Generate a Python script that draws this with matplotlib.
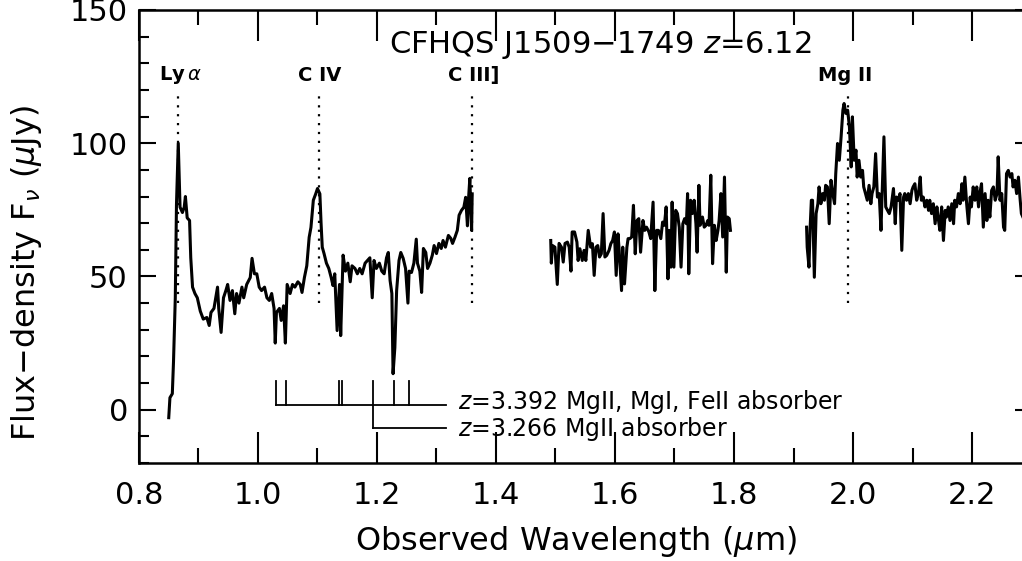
import matplotlib
matplotlib.use("Agg")
import matplotlib.pyplot as plt
from matplotlib.ticker import MultipleLocator, FormatStrFormatter

# spectrum, three pieces with gaps between the bands
wl_a = [0.850, 0.852, 0.856, 0.858, 0.861, 0.863, 0.866, 0.869, 0.873, 0.876,
        0.878, 0.881, 0.885, 0.887, 0.890, 0.894, 0.898, 0.903, 0.908, 0.914,
        0.918, 0.921, 0.926, 0.932, 0.934, 0.938, 0.942, 0.946, 0.949, 0.953,
        0.957, 0.961, 0.964, 0.968, 0.973, 0.976, 0.981, 0.987, 0.990, 0.994,
        0.998, 1.002, 1.006, 1.011, 1.015, 1.019, 1.023, 1.027, 1.029, 1.031,
        1.036, 1.039, 1.043, 1.046, 1.049, 1.054, 1.058, 1.062, 1.067, 1.071,
        1.074, 1.078, 1.082, 1.086, 1.089, 1.093, 1.097, 1.100, 1.104, 1.106,
        1.108, 1.111, 1.115, 1.119, 1.123, 1.126, 1.129, 1.133, 1.137, 1.139,
        1.143, 1.147, 1.151, 1.155, 1.158, 1.163, 1.167, 1.171, 1.175, 1.180,
        1.184, 1.188, 1.192, 1.195, 1.199, 1.204, 1.208, 1.212, 1.216, 1.219,
        1.222, 1.225, 1.227, 1.230, 1.233, 1.237, 1.240, 1.244, 1.248, 1.252,
        1.254, 1.258, 1.262, 1.266, 1.268, 1.272, 1.275, 1.278, 1.282, 1.285,
        1.289, 1.293, 1.296, 1.300, 1.304, 1.308, 1.311, 1.315, 1.320, 1.324,
        1.327, 1.331, 1.335, 1.338, 1.342, 1.346, 1.349, 1.352, 1.354, 1.356,
        1.359, 1.360]
fl_a = [-3, 4.5, 6, 18, 42, 77, 100, 76, 74, 76,
        80, 72, 71, 57, 46, 43.6, 42, 37, 34, 34.6,
        31.6, 36.5, 38, 46, 38, 29, 42, 44.7, 47, 41,
        44.7, 36, 43.6, 40, 46, 42, 47, 49.6, 56.8, 51,
        51, 46, 44.7, 46, 42, 41, 43.6, 38, 25, 36.5,
        38, 33.5, 39, 25, 47, 43.6, 47, 46, 48, 47,
        44, 49.6, 54, 64.7, 68.4, 78.6, 81, 83, 81, 70,
        61, 58.6, 55, 53, 49.6, 46.6, 51, 29.7, 47, 27.8,
        58, 52, 55, 48, 54, 53, 51, 53, 51, 55,
        56, 57, 42, 56, 53, 55, 52, 51, 57, 59,
        48.5, 43.6, 13.5, 23.3, 44.7, 56, 59, 56.8, 53, 40,
        52, 51.5, 55, 64, 55, 52, 44, 60.5, 59, 53,
        55, 58, 61.6, 58.6, 62.4, 60.5, 63.5, 61, 65.4, 64.3,
        62.4, 64.7, 67.3, 73, 74.8, 76, 79.7, 69, 79.7, 86.8,
        67.3, 81]

wl_b = [1.492, 1.493, 1.495, 1.499, 1.503, 1.506, 1.510, 1.513, 1.516, 1.520,
        1.523, 1.526, 1.528, 1.532, 1.536, 1.538, 1.541, 1.545, 1.548, 1.551,
        1.555, 1.559, 1.562, 1.565, 1.568, 1.571, 1.574, 1.577, 1.580, 1.583,
        1.586, 1.590, 1.593, 1.596, 1.599, 1.602, 1.605, 1.607, 1.611, 1.613,
        1.616, 1.620, 1.622, 1.625, 1.628, 1.631, 1.634, 1.637, 1.640, 1.643,
        1.647, 1.650, 1.653, 1.657, 1.660, 1.664, 1.667, 1.670, 1.673, 1.677,
        1.680, 1.683, 1.686, 1.689, 1.691, 1.694, 1.696, 1.699, 1.702, 1.705,
        1.708, 1.711, 1.714, 1.717, 1.720, 1.722, 1.724, 1.727, 1.730, 1.733,
        1.736, 1.738, 1.741, 1.743, 1.747, 1.750, 1.753, 1.756, 1.758, 1.761,
        1.764, 1.767, 1.770, 1.773, 1.775, 1.778, 1.781, 1.784, 1.787, 1.789,
        1.792, 1.794]
fl_b = [63.5, 55, 61.6, 61, 47, 62.4, 61, 55.4, 62.4, 62.9,
        61, 52, 66.7, 66.7, 62.9, 56, 60.4, 56, 59.8, 56,
        67.3, 61, 62.3, 50.4, 61, 61.6, 57.3, 58.5, 73.6, 57.3,
        57.9, 59.8, 62.3, 63.5, 66.7, 50.4, 66, 59.8, 44.7, 61,
        47.2, 61, 64.2, 64.2, 64.8, 76.7, 58.5, 71, 71.7, 59.1,
        71, 67.3, 68.5, 66.7, 64.2, 77.9, 44.7, 67.3, 67.3, 64.2,
        70.4, 69.2, 76.1, 49.1, 67.3, 53.5, 77.9, 53.5, 74.8, 73.6,
        68.5, 53.5, 69.8, 71.7, 69.8, 81.1, 51, 78.6, 73.6, 78.6,
        69.8, 59.1, 84.2, 69.2, 72.3, 68.5, 69.2, 71, 69.2, 88,
        54.8, 69.2, 63.5, 67.3, 71, 81.1, 64.8, 87.3, 51.6, 72.3,
        71.7, 67.3]

wl_c = [1.922, 1.923, 1.926, 1.928, 1.930, 1.932, 1.935, 1.938, 1.941, 1.943,
        1.946, 1.949, 1.952, 1.954, 1.957, 1.960, 1.963, 1.966, 1.969, 1.971,
        1.974, 1.977, 1.980, 1.983, 1.985, 1.988, 1.991, 1.994, 1.997, 1.999,
        2.002, 2.005, 2.007, 2.010, 2.013, 2.016, 2.018, 2.021, 2.024, 2.027,
        2.030, 2.032, 2.035, 2.038, 2.041, 2.044, 2.047, 2.049, 2.052, 2.055,
        2.058, 2.061, 2.064, 2.068, 2.071, 2.073, 2.076, 2.079, 2.082, 2.085,
        2.087, 2.090, 2.093, 2.096, 2.099, 2.101, 2.104, 2.107, 2.110, 2.113,
        2.115, 2.118, 2.121, 2.124, 2.127, 2.129, 2.132, 2.135, 2.138, 2.141,
        2.143, 2.146, 2.149, 2.152, 2.155, 2.157, 2.160, 2.163, 2.166, 2.169,
        2.171, 2.174, 2.177, 2.180, 2.183, 2.185, 2.188, 2.191, 2.194, 2.197,
        2.199, 2.202, 2.205, 2.208, 2.211, 2.213, 2.216, 2.219, 2.222, 2.225,
        2.227, 2.230, 2.233, 2.236, 2.239, 2.242, 2.244, 2.247, 2.250, 2.253,
        2.255, 2.258, 2.261, 2.264, 2.267, 2.269, 2.272, 2.275, 2.278, 2.281,
        2.283, 2.290]
fl_c = [68.5, 61, 53.5, 68.5, 78.6, 78.6, 49.7, 73.6, 77.3, 83.6,
        77.3, 81.1, 78.6, 84.2, 83.6, 69.8, 86.1, 81.1, 77.3, 88.6,
        99.9, 93.6, 102.4, 112.4, 114.9, 111.2, 112.4, 106.1, 91.1, 109.9,
        93.6, 97.4, 87.3, 93.6, 87.3, 89.8, 83.6, 81.1, 78.6, 84.2,
        77.3, 81.1, 83.6, 96.1, 79.8, 81.1, 67.3, 81.1, 102.4, 76.1,
        74.8, 73.6, 76.1, 83, 69.8, 79.8, 78.6, 81.1, 59.8, 79.8,
        81.1, 78.6, 81.1, 77.3, 82.3, 83.6, 84.8, 78.6, 81.1, 87.3,
        78.6, 79.8, 76.1, 78.6, 74.8, 78.6, 73.6, 77.3, 69.8, 76.1,
        72.3, 67.3, 76.1, 63.5, 74.8, 72.3, 76.1, 71, 77.3, 69.8,
        78.6, 76.1, 81.1, 77.3, 84.8, 78.6, 87.3, 77.3, 69.8, 79.8,
        76.1, 83.6, 78.6, 83.6, 76.1, 81.1, 84.8, 68.5, 81.1, 71,
        78.6, 72.3, 82.3, 83.6, 78.6, 81.1, 94.9, 78.6, 81.1, 68.5,
        67.3, 88.6, 89.8, 87.3, 88.6, 83.6, 86.1, 81.1, 87.3, 78.6,
        73.6, 70]

# emission lines (z = 6.12)
line_wl = [0.8657, 1.1029, 1.359, 1.992]
line_names = ["Ly$\\,\\alpha$", "C IV", "C III]", "Mg II"]
label_wl = [0.869, 1.104, 1.363, 1.987]

# absorbers
abs1_wl = [1.0296, 1.0465, 1.1361, 1.1420, 1.2282, 1.2530]
abs2_wl = [1.1937]
abs_end = 1.316

fig = plt.figure(figsize=(10.22, 5.61), dpi=100)
ax = fig.add_axes([0.136, 0.1747, 0.8733, 0.8075])

for w, f in [(wl_a, fl_a), (wl_b, fl_b), (wl_c, fl_c)]:
    ax.plot(w, f, color="black", lw=2.2, solid_joinstyle="round")

for w, lw_, name in zip(line_wl, label_wl, line_names):
    ax.plot([w, w], [40, 119], color="black", ls=(0, (1, 3)), lw=1.6)
    ax.text(lw_, 125.5, name, ha="center", va="center", fontsize=14,
            fontweight="bold")

# absorber markers
lvl1, lvl2, top = 1.9, -6.8, 10.9
ax.plot([abs1_wl[0], abs_end], [lvl1, lvl1], color="black", lw=1.3)
for w in abs1_wl:
    ax.plot([w, w], [lvl1, top], color="black", lw=1.3)
ax.plot([abs2_wl[0], abs_end], [lvl2, lvl2], color="black", lw=1.3)
ax.plot([abs2_wl[0], abs2_wl[0]], [lvl2, top], color="black", lw=1.3)
ax.text(1.336, lvl1 + 1, "$z$=3.392 MgII, MgI, FeII absorber", fontsize=17,
        va="center", ha="left")
ax.text(1.336, lvl2 - 0.5, "$z$=3.266 MgII absorber", fontsize=17,
        va="center", ha="left")

ax.text(1.575, 137, "CFHQS J1509\u22121749 $z$=6.12", ha="center",
        va="center", fontsize=22)

ax.set_xlim(0.8, 2.3)
ax.set_ylim(-20, 150)
ax.xaxis.set_major_locator(MultipleLocator(0.2))
ax.xaxis.set_minor_locator(MultipleLocator(0.1))
ax.xaxis.set_major_formatter(FormatStrFormatter("%.1f"))
ax.yaxis.set_major_locator(MultipleLocator(50))
ax.yaxis.set_minor_locator(MultipleLocator(10))
ax.tick_params(axis="x", which="major", direction="in", length=22, width=1.5,
               top=True, labelsize=22, pad=13)
ax.tick_params(axis="x", which="minor", direction="in", length=11, width=1.5,
               top=True)
ax.tick_params(axis="y", which="major", direction="in", length=12, width=1.5,
               right=True, labelsize=22, pad=8)
ax.tick_params(axis="y", which="minor", direction="in", length=7, width=1.5,
               right=True)
for s in ax.spines.values():
    s.set_linewidth(1.8)

ax.set_xlabel("Observed Wavelength ($\\mu$m)", fontsize=23)
ax.xaxis.set_label_coords(0.49, -0.135)
ax.set_ylabel("Flux\u2212density F$_\\nu$ ($\\mu$Jy)", fontsize=23)
ax.yaxis.set_label_coords(-0.106, 0.42)

fig.savefig("out.png", dpi=100)
